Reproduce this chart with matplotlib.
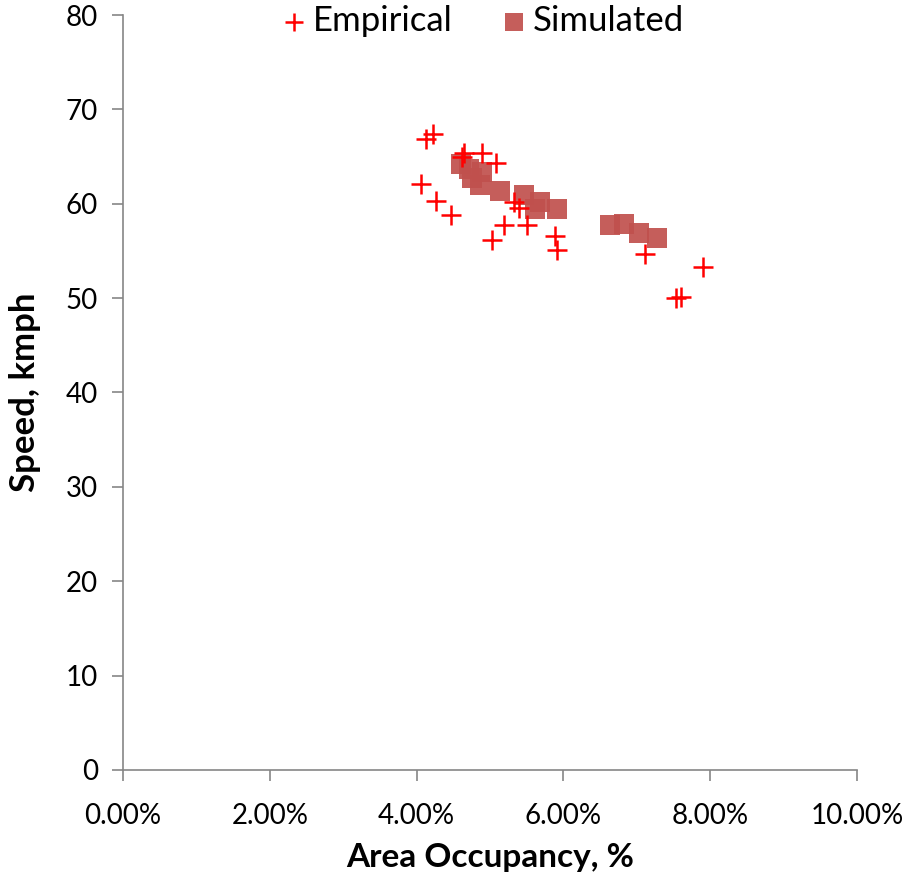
#!/usr/bin/env python3
"""Speed vs area occupancy: empirical and simulated points"""
import matplotlib
matplotlib.use('agg')
import matplotlib.pyplot as plt
from matplotlib.ticker import PercentFormatter

# occupancy as fraction, speed in kmph
emp_occ = [0.0413, 0.0422, 0.0406, 0.0427, 0.0447, 0.0465, 0.0462, 0.0489, 0.0508,
           0.0519, 0.0503, 0.0550, 0.0533, 0.0540, 0.0588, 0.0591, 0.0711, 0.0790,
           0.0754, 0.0760]
emp_speed = [66.9, 67.4, 62.1, 60.3, 58.8, 65.4, 65.0, 65.4, 64.3,
             57.8, 56.2, 57.8, 60.2, 59.6, 56.6, 55.1, 54.7, 53.3,
             50.0, 50.1]
sim_occ = [0.0461, 0.0471, 0.0489, 0.0475, 0.0487, 0.0514, 0.0546, 0.0568, 0.0562,
           0.0591, 0.0664, 0.0682, 0.0703, 0.0728]
sim_speed = [64.2, 63.7, 63.4, 62.7, 62.0, 61.4, 60.9, 60.2, 59.5,
             59.5, 57.7, 57.9, 56.9, 56.4]

def main():
    plt.rcParams['font.family'] = ['Lato', 'DejaVu Sans']
    fig = plt.figure(figsize=(9.04, 8.88), dpi=100)
    ax = fig.add_axes([0.136, 0.133, 0.812, 0.85])

    ax.scatter(sim_occ, sim_speed, marker='s', s=210, color='#C0504D',
               alpha=0.92, linewidths=0, label='Simulated', zorder=2)
    ax.scatter(emp_occ, emp_speed, marker='+', s=220, color='#FF0000',
               linewidths=1.8, label='Empirical', zorder=3)

    ax.set_xlim(0, 0.10)
    ax.set_ylim(0, 80)
    ax.set_xticks([0, 0.02, 0.04, 0.06, 0.08, 0.10])
    ax.set_yticks(range(0, 81, 10))
    ax.xaxis.set_major_formatter(PercentFormatter(1.0, decimals=2))

    for side in ('top', 'right'):
        ax.spines[side].set_visible(False)
    for side in ('left', 'bottom'):
        ax.spines[side].set_color('#868686')
        ax.spines[side].set_linewidth(1.2)
    ax.tick_params(direction='out', length=8, width=1.2, color='#868686',
                   labelsize=20, pad=10)
    ax.tick_params(axis='x', pad=16)

    ax.set_xlabel('Area Occupancy, %', fontsize=24, fontweight='bold', labelpad=10)
    ax.set_ylabel('Speed, kmph', fontsize=25, fontweight='bold', labelpad=18)

    handles, labels = ax.get_legend_handles_labels()
    ax.legend(handles[::-1], labels[::-1], loc='upper center',
              bbox_to_anchor=(0.488, 1.055), ncol=2, frameon=False, fontsize=25,
              handletextpad=0.1, columnspacing=1.3, markerscale=0.85,
              handlelength=0.9)

    fig.savefig('out.png', dpi=100)

if __name__ == '__main__':
    main()
